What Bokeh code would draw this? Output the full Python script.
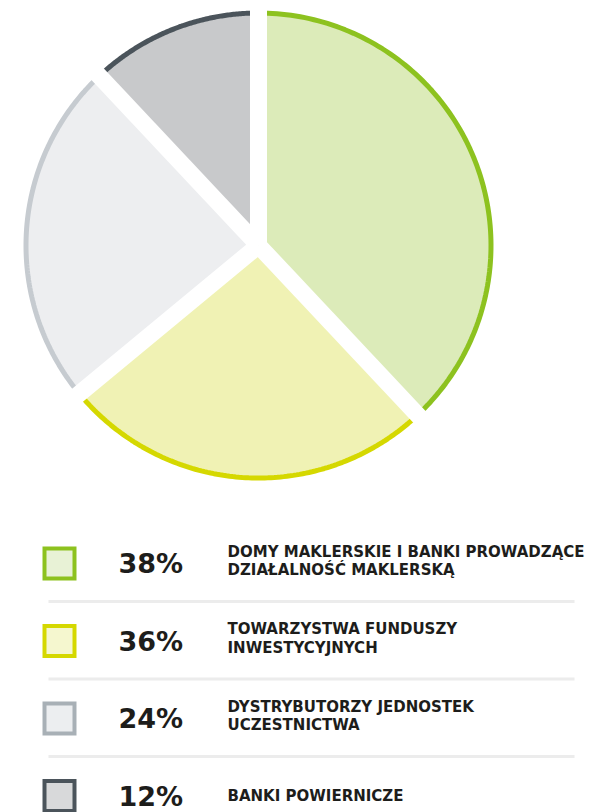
import numpy as np
from bokeh.plotting import figure
from bokeh.models import Range1d
from bokeh.core.properties import value
from bokeh.embed import file_html
from bokeh.resources import INLINE

# ---- data ----
categories = [
    ["DOMY MAKLERSKIE I BANKI PROWADZĄCE", "DZIAŁALNOŚĆ MAKLERSKĄ"],
    ["TOWARZYSTWA FUNDUSZY", "INWESTYCYJNYCH"],
    ["DYSTRYBUTORZY JEDNOSTEK", "UCZESTNICTWA"],
    ["BANKI POWIERNICZE"],
]
legend_pct = ["38%", "36%", "24%", "12%"]
slice_share = [38, 26, 24, 12]  # shares as drawn in the pie

fill_colors = ["#dcebb9", "#f0f2b4", "#edeef0", "#c8c9cb"]
edge_colors = ["#8dc21f", "#d5d800", "#c6cbd0", "#4b545b"]
box_fill = ["#e8f2d6", "#f5f7cf", "#eceef0", "#d8d9da"]
box_edge = ["#8dc21f", "#d5d800", "#a8b0b6", "#4b545b"]

W, H = 590, 812
p = figure(width=W, height=H, x_range=Range1d(0, W), y_range=Range1d(H, 0),
           output_backend="svg", toolbar_location=None, min_border=0,
           x_axis_location=None, y_axis_location=None)
p.grid.visible = False
p.outline_line_color = None
p.background_fill_color = "white"
p.border_fill_color = "white"

# ---- pie ----
cx, cy = 258, 245
r_fill, r_arc = 231, 232.5
shares = np.array(slice_share, dtype=float)
bounds = np.concatenate([[0], np.cumsum(shares) / shares.sum()]) * 2 * np.pi

xs, ys, axs, ays = [], [], [], []
for i in range(len(shares)):
    t = np.linspace(bounds[i], bounds[i + 1], 120)
    xs.append(list(np.concatenate([[cx], cx + r_fill * np.sin(t)])))
    ys.append(list(np.concatenate([[cy], cy - r_fill * np.cos(t)])))
    axs.append(list(cx + r_arc * np.sin(t)))
    ays.append(list(cy - r_arc * np.cos(t)))

p.patches(xs, ys, fill_color=fill_colors, line_color=None)
p.multi_line(axs, ays, line_color=edge_colors, line_width=5)

gx, gy = [], []
for b in bounds[:-1]:
    gx.append([cx, cx + 260 * np.sin(b)])
    gy.append([cy, cy - 260 * np.cos(b)])
p.multi_line(gx, gy, line_color="white", line_width=17, line_cap="butt")

# ---- legend ----
row0, step = 546, 77.5
for i, (lab, pct) in enumerate(zip(categories, legend_pct)):
    top = row0 + step * i
    p.rect(x=[59], y=[top + 17], width=30, height=30, fill_color=box_fill[i],
           line_color=box_edge[i], line_width=4, line_join="miter")
    p.text(x=[118], y=[top + 17], text=[pct], text_font=value("DejaVu Sans"),
           text_font_style="bold", text_font_size="27px", text_color="#1d1d1b",
           text_baseline="middle")
    if len(lab) == 2:
        ys_l = [top + 5, top + 23.5]
    else:
        ys_l = [top + 17]
    p.text(x=[227] * len(lab), y=ys_l, text=lab, text_font=value("DejaVu Sans"),
           text_font_style="bold", text_font_size="15px", text_color="#1d1d1b",
           text_baseline="middle")
    if i < len(categories) - 1:
        p.line(x=[48, 574], y=[top + 55, top + 55], line_color="#ececec", line_width=3)

open("out.html", "w").write(file_html(p, INLINE))
